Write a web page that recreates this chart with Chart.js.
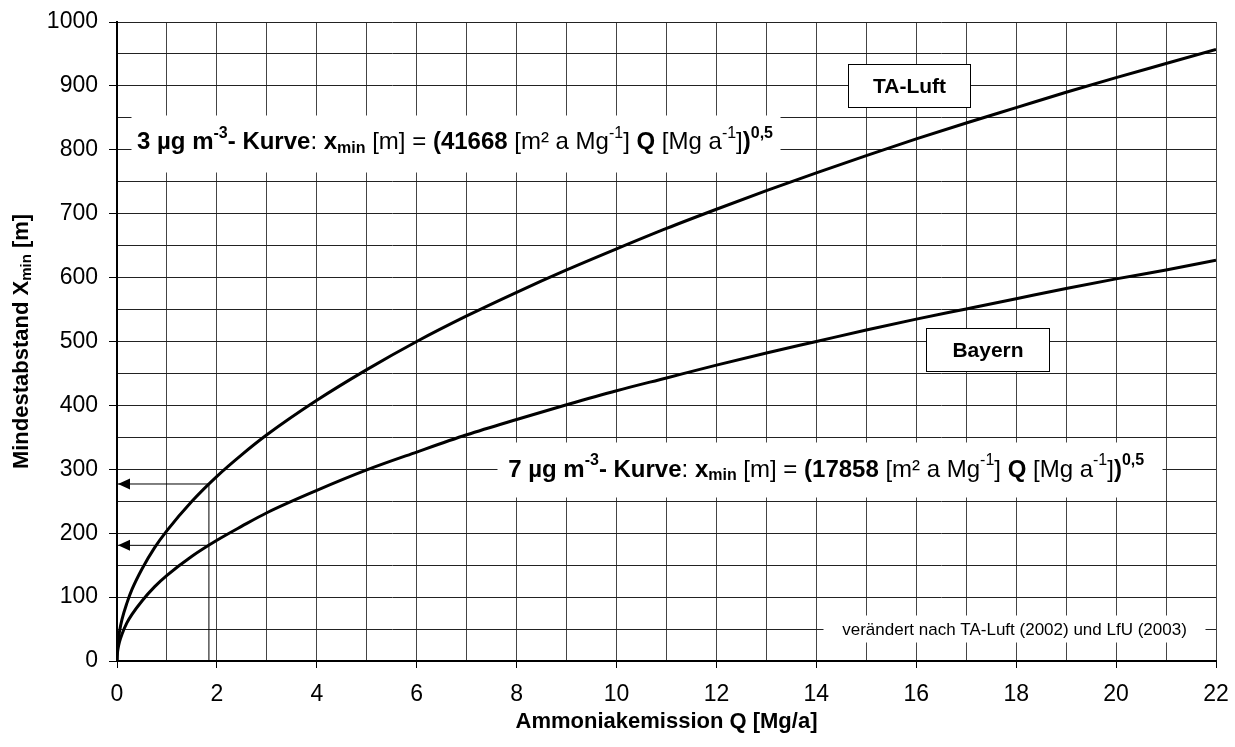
<!DOCTYPE html>
<html>
<head>
<meta charset="utf-8">
<title>Mindestabstand</title>
<script src="https://cdn.jsdelivr.net/npm/chart.js@4.4.1/dist/chart.umd.min.js"></script>
<style>
  html, body { margin: 0; padding: 0; background: #fff; }
  #wrap { width: 1235px; height: 747px; position: relative; }
</style>
</head>
<body>
<div id="wrap"><canvas id="abstandChart"></canvas></div>
<script>
// Ammoniakemission Q [Mg/a]
const qValues = [0, 0.005, 0.02, 0.05, 0.1, 0.2, 0.3, 0.5, 0.75, 1, 1.5, 2, 2.5, 3, 4, 5, 6, 7, 8, 9, 10,
                 11, 12, 13, 14, 15, 16, 17, 18, 19, 20, 21, 22];
// Mindestabstand [m], TA-Luft (3 µg-Kurve)
const taLuftDistance = [0, 14, 29, 46, 65, 91, 112, 144, 177, 204, 250, 289, 323, 354, 408, 456, 500, 540, 577, 612, 645,
                        677, 707, 736, 764, 791, 817, 842, 866, 890, 913, 935, 957];
// Mindestabstand [m], Bayern (7 µg-Kurve)
const bayernDistance = [0, 9, 19, 30, 42, 60, 73, 94, 116, 134, 164, 189, 211, 232, 267, 299, 327, 354, 378, 401, 423,
                        443, 463, 482, 500, 518, 535, 551, 567, 583, 598, 612, 627];

// Ablesebeispiel: Q = 1,84 Mg/a
const readQ = 1.84;
const readLevels = [277, 181];

const xMax = 22;
const yMax = 1000;

const FONT = '"Liberation Sans", Arial, Helvetica, sans-serif';

const toPoints = (ys) => qValues.map((q, i) => ({ x: q, y: ys[i] }));

const guideStyle = { borderColor: '#000', borderWidth: 1, pointRadius: 0, tension: 0, fill: false };

const datasets = [
  { label: 'TA-Luft', data: toPoints(taLuftDistance), borderColor: '#000', borderWidth: 3,
    pointRadius: 0, cubicInterpolationMode: 'monotone', fill: false },
  { label: 'Bayern', data: toPoints(bayernDistance), borderColor: '#000', borderWidth: 3,
    pointRadius: 0, cubicInterpolationMode: 'monotone', fill: false },
  { label: 'senkrecht', data: [{ x: readQ, y: 0 }, { x: readQ, y: readLevels[0] }], ...guideStyle },
  ...readLevels.map((lvl) => ({ label: 'pfeil', data: [{ x: readQ, y: lvl }, { x: 0, y: lvl }], ...guideStyle }))
];

// Textbausteine: t = Text, b = fett, sup/sub = hoch-/tiefgestellt
const kurve3 = [
  { t: '3 µg m', b: 1 }, { t: '-3', b: 1, sup: 1 }, { t: '- Kurve', b: 1 }, { t: ': ' },
  { t: 'x', b: 1 }, { t: 'min', b: 1, sub: 1 }, { t: ' [m] = ' }, { t: '(41668', b: 1 },
  { t: ' [m² a Mg' }, { t: '-1', sup: 1 }, { t: '] ' }, { t: 'Q', b: 1 }, { t: ' [Mg a' },
  { t: '-1', sup: 1 }, { t: ']' }, { t: ')', b: 1 }, { t: '0,5', b: 1, sup: 1 }
];
const kurve7 = kurve3.map((p) => p.t === '3 µg m' ? { ...p, t: '7 µg m' }
                                 : p.t === '(41668' ? { ...p, t: '(17858' } : p);
const yTitle = [{ t: 'Mindestabstand X', b: 1 }, { t: 'min', b: 1, sub: 1 }, { t: ' [m]', b: 1 }];

function partFont(p, size) {
  const s = (p.sup || p.sub) ? Math.round(size * 0.68) : size;
  return (p.b ? 'bold ' : '') + s + 'px ' + FONT;
}

function richWidth(ctx, parts, size) {
  return parts.reduce((w, p) => { ctx.font = partFont(p, size); return w + ctx.measureText(p.t).width; }, 0);
}

function drawRich(ctx, parts, x, y, size) {
  let cx = x;
  ctx.textAlign = 'left';
  ctx.textBaseline = 'middle';
  parts.forEach((p) => {
    ctx.font = partFont(p, size);
    const dy = p.sup ? -size * 0.38 : p.sub ? size * 0.24 : 0;
    ctx.fillText(p.t, cx, y + dy);
    cx += ctx.measureText(p.t).width;
  });
}

function box(ctx, xs, ys, x0, x1, y0, y1, border) {
  const l = Math.round(xs.getPixelForValue(x0)) + 0.5;
  const r = Math.round(xs.getPixelForValue(x1)) + 0.5;
  const t = Math.round(ys.getPixelForValue(y0)) + 0.5;
  const b = Math.round(ys.getPixelForValue(y1)) + 0.5;
  ctx.fillStyle = '#fff';
  ctx.fillRect(l, t, r - l, b - t);
  if (border) {
    ctx.strokeStyle = '#000';
    ctx.lineWidth = 1;
    ctx.strokeRect(l, t, r - l, b - t);
  }
  return { cx: (l + r) / 2, cy: (t + b) / 2 };
}

const beschriftung = {
  id: 'beschriftung',
  beforeDatasetsDraw(chart) {
    const { ctx, scales: { x, y } } = chart;
    ctx.save();
    // Formelkästen ohne Rahmen
    box(ctx, x, y, 0.28, 13.27, 854, 765, false);
    ctx.fillStyle = '#000';
    drawRich(ctx, kurve3, x.getPixelForValue(0.4), y.getPixelForValue(811), 24);
    box(ctx, x, y, 7.61, 20.92, 343, 257, false);
    ctx.fillStyle = '#000';
    drawRich(ctx, kurve7, x.getPixelForValue(7.83), y.getPixelForValue(299), 24);
    // Quellenangabe
    const q = box(ctx, x, y, 14.13, 21.78, 72, 30, false);
    ctx.fillStyle = '#000';
    ctx.font = '17px ' + FONT;
    ctx.textAlign = 'center';
    ctx.textBaseline = 'middle';
    ctx.fillText('verändert nach TA-Luft (2002) und LfU (2003)', q.cx, q.cy + 1);
    ctx.restore();
  },
  afterDatasetsDraw(chart) {
    const { ctx, chartArea, scales: { x, y } } = chart;
    ctx.save();
    // Pfeilspitzen an der y-Achse
    ctx.fillStyle = '#000';
    readLevels.forEach((lvl) => {
      const px = x.getPixelForValue(0) + 1;
      const py = y.getPixelForValue(lvl);
      ctx.beginPath();
      ctx.moveTo(px, py);
      ctx.lineTo(px + 12, py - 5.5);
      ctx.lineTo(px + 12, py + 5.5);
      ctx.closePath();
      ctx.fill();
    });
    // Kurvennamen mit Rahmen
    ctx.font = 'bold 21px ' + FONT;
    ctx.textAlign = 'center';
    ctx.textBaseline = 'middle';
    let c = box(ctx, x, y, 14.63, 17.08, 934, 867, true);
    ctx.fillStyle = '#000';
    ctx.fillText('TA-Luft', c.cx, c.cy + 1);
    c = box(ctx, x, y, 16.2, 18.66, 521, 454, true);
    ctx.fillStyle = '#000';
    ctx.fillText('Bayern', c.cx, c.cy + 1);
    // y-Achsentitel mit Index
    const w = richWidth(ctx, yTitle, 22);
    ctx.translate(22, (chartArea.top + chartArea.bottom) / 2);
    ctx.rotate(-Math.PI / 2);
    ctx.fillStyle = '#000';
    drawRich(ctx, yTitle, -w / 2, 0, 22);
    ctx.restore();
  }
};

new Chart(document.getElementById('abstandChart').getContext('2d'), {
  type: 'line',
  data: { datasets },
  options: {
    responsive: true,
    maintainAspectRatio: false,
    animation: false,
    devicePixelRatio: 1,
    layout: { padding: { top: 22, right: 19, left: 0, bottom: 0 } },
    plugins: { legend: { display: false }, tooltip: { enabled: false } },
    scales: {
      x: {
        type: 'linear',
        min: 0,
        max: xMax,
        afterFit: (s) => { s.height = 86; s.paddingLeft = 0; s.paddingRight = 0; },
        border: { color: '#000', width: 2 },
        grid: {
          color: (c) => c.tick && c.tick.value === 0 ? '#000' : '#444',
          lineWidth: 1,
          tickLength: 7,
          tickColor: (c) => c.tick && c.tick.value % 2 === 0 ? '#000' : 'rgba(0,0,0,0)'
        },
        ticks: {
          stepSize: 1,
          autoSkip: false,
          maxRotation: 0,
          padding: 13,
          color: '#000',
          font: { family: FONT, size: 23 },
          callback: (v) => v % 2 === 0 ? String(v) : ''
        },
        title: {
          display: true,
          text: 'Ammoniakemission Q [Mg/a]',
          color: '#000',
          font: { family: FONT, size: 22, weight: 'bold' },
          padding: { top: 4, bottom: 12 }
        }
      },
      y: {
        min: 0,
        max: yMax,
        afterFit: (s) => { s.width = 117; s.paddingTop = 0; s.paddingBottom = 0; },
        border: { color: '#000', width: 2 },
        grid: {
          color: '#222',
          lineWidth: 1,
          tickLength: 8,
          tickColor: (c) => c.tick && c.tick.value % 100 === 0 ? '#000' : 'rgba(0,0,0,0)'
        },
        ticks: {
          stepSize: 50,
          autoSkip: false,
          padding: 11,
          color: '#000',
          font: { family: FONT, size: 23 },
          callback: (v) => v % 100 === 0 ? String(v) : ''
        },
        title: { display: false }
      }
    }
  },
  plugins: [beschriftung]
});
</script>
</body>
</html>
